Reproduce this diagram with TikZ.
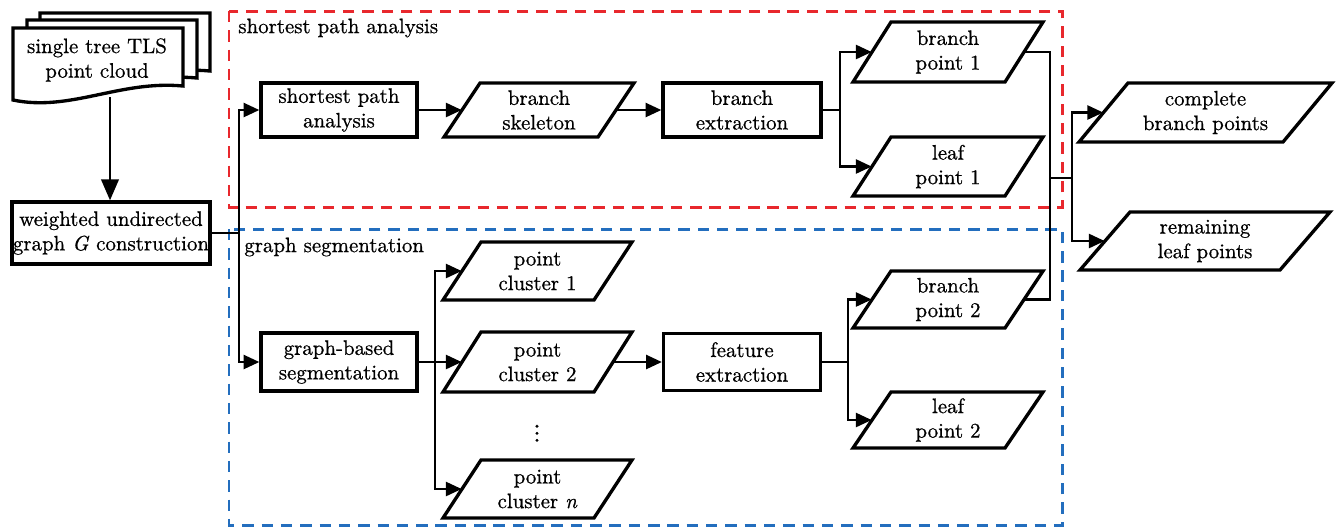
\documentclass[tikz,border=0pt]{standalone}
\usepackage{fontspec}
\setmainfont{lmroman10-regular.otf}[FakeBold=0.7, ItalicFont=lmroman10-italic.otf, ItalicFeatures={FakeBold=0.7}]
\usetikzlibrary{arrows.meta,calc}
\definecolor{rd}{RGB}{232,40,45}
\definecolor{bl}{RGB}{35,110,190}
\tikzset{
 txt/.style={font=\fontsize{11.9}{14}\selectfont, align=center, inner sep=0pt},
 box/.style={txt, draw, line width=1.9pt, fill=white},
 pbox/.style={txt},
 pline/.style={line width=1.9pt, fill=white, line join=miter},
 docshape/.style={line width=1.9pt, fill=white},
 line/.style={line width=1.4pt},
 arr/.style={line, -{Triangle[length=9pt,width=8pt]}},
 bigarr/.style={line, -{Triangle[length=12pt,width=10pt]}},
 region/.style={line width=1.7pt, dash pattern=on 6.5pt off 4.5pt},
}
% name, x, y, bottom-edge width, height, slant, text (all in px units)
\newcommand\mypara[7]{%
 \draw[pline] ({#2-#4/2-#6/2},{#3+#5/2}) -- ({#2+#4/2-#6/2},{#3+#5/2}) -- ({#2+#4/2+#6/2},{#3-#5/2}) -- ({#2-#4/2+#6/2},{#3-#5/2}) -- cycle;
 \node[pbox, minimum width=#4*0.02cm, minimum height=#5*0.02cm] (#1) at (#2,#3) {#7};
}
\newcommand\mydoc[2]{%
 \draw[docshape] (#1,#2) -- ({#1+170},#2) -- ({#1+170},{#2+58}) .. controls ({#1+107},{#2+52}) and ({#1+57},{#2+84}) .. (#1,{#2+72}) -- cycle;
}
\begin{document}
\begin{tikzpicture}[x=0.02cm,y=-0.02cm]
\useasboundingbox (0,0) rectangle (1338,529);
% regions
\draw[region, rd] (229,11) rectangle (1062,207);
\draw[region, bl] (229,229) rectangle (1062,525);
\node[txt, anchor=west] (lab1) at (238,28) {shortest path analysis};
\node[txt, anchor=west] (lab2) at (244,247) {graph segmentation};
% document stack
\mydoc{40}{13}
\mydoc{27}{20}
\mydoc{13}{28}
\node[txt] (doc) at (97,60) {single tree TLS\\point cloud};
\coordinate (docb) at (110,97);
% boxes
\node[box, minimum width=198*0.02cm, minimum height=62*0.02cm] (wg) at (111,233) {weighted undirected\\graph \textit{G} construction};
\node[box, minimum width=156*0.02cm, minimum height=54*0.02cm] (spa) at (339,110) {shortest path\\analysis};
\node[box, minimum width=158*0.02cm, minimum height=54*0.02cm] (bext) at (742,110) {branch\\extraction};
\node[box, minimum width=156*0.02cm, minimum height=58*0.02cm] (gbs) at (339,362) {graph-based\\segmentation};
\node[box, minimum width=157*0.02cm, minimum height=57*0.02cm] (fext) at (742,362) {feature\\extraction};
% parallelograms
\mypara{skel}{539}{110}{154}{54}{36}{branch\\skeleton}
\mypara{bp1}{948}{52}{152}{60}{38}{branch\\point 1}
\mypara{lp1}{948}{166.5}{152}{59}{38}{leaf\\point 1}
\mypara{pc1}{537.5}{271}{151}{58}{38}{point\\cluster 1}
\mypara{pc2}{537.5}{362}{151}{60}{38}{point\\cluster 2}
\mypara{pcn}{537.5}{489}{151}{58}{38}{point\\cluster \textit{n}}
\mypara{bp2}{948}{299.5}{152}{57}{38}{branch\\point 2}
\mypara{lp2}{948}{420}{152}{56}{38}{leaf\\point 2}
\mypara{cbp}{1205.5}{112.5}{204}{59}{49}{complete\\branch points}
\mypara{rlp}{1205}{241}{200}{58}{50}{remaining\\leaf points}
\node[txt, font=\fontsize{15}{16}\selectfont] (dots) at (537,428) {$\vdots$};
% junctions
\coordinate (tj) at (239,233);
\coordinate (bs) at (840,110);
\coordinate (gs) at (435,362);
\coordinate (fs) at (848,362);
\coordinate (mj) at (1050,178);
\coordinate (oj) at (1072,178);
% connectors
\draw[bigarr] (docb) -- (docb |- wg.north);
\draw[line] (wg.east) -- (tj);
\draw[arr] (tj) |- (spa.west);
\draw[arr] (tj) |- (gbs.west);
\draw[arr] (spa.east) -- (skel.west);
\draw[arr] (skel.east) -- (bext.west);
\draw[line] (bext.east) -- (bs);
\draw[arr] (bs) |- (bp1.west);
\draw[arr] (bs) |- (lp1.west);
\draw[line] (gbs.east) -- (gs);
\draw[arr] (gs) |- (pc1.west);
\draw[arr] (gs) -- (pc2.west);
\draw[arr] (gs) |- (pcn.west);
\draw[arr] (pc2.east) -- (fext.west);
\draw[line] (fext.east) -- (fs);
\draw[arr] (fs) |- (bp2.west);
\draw[arr] (fs) |- (lp2.west);
\draw[line] (bp1.east) -| (mj) |- (bp2.east);
\draw[line] (mj) -- (oj);
\draw[arr] (oj) |- (cbp.west);
\draw[arr] (oj) |- (rlp.west);
\end{tikzpicture}
\end{document}
